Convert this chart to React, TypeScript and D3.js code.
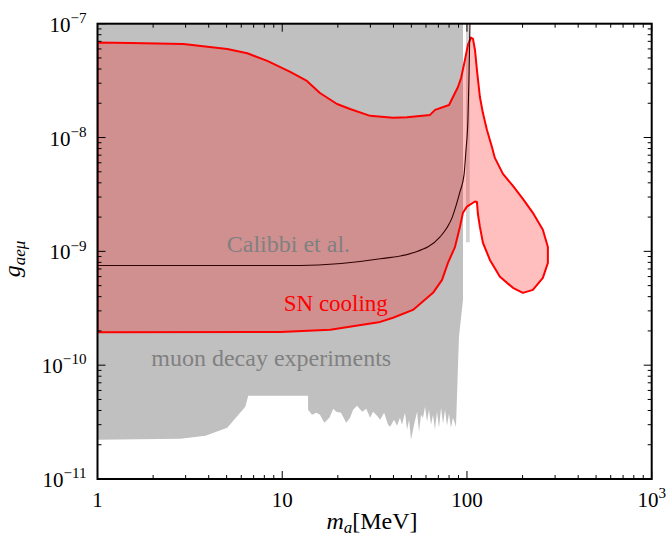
import React, { useEffect, useRef } from "react";
import * as d3 from "d3";

// SN cooling excluded region, closed contour [m_a (MeV), g_aeμ]
const snCooling: [number, number][] = [
  [1, 6.84e-8], [1.51, 6.77e-8], [2.92, 6.64e-8], [5.04, 6.0e-8], [6.47, 5.5e-8],
  [8.3, 4.71e-8], [11.05, 3.77e-8], [13.6, 3.14e-8], [16.0, 2.46e-8], [19.8, 1.97e-8],
  [23.3, 1.78e-8], [29.9, 1.55e-8], [39.8, 1.49e-8], [47.4, 1.51e-8], [63.1, 1.58e-8],
  [67.2, 1.75e-8], [80.0, 1.93e-8], [84.0, 2.27e-8], [89.4, 2.78e-8], [92.9, 3.33e-8],
  [97.5, 4.8e-8], [101.2, 6.5e-8], [105.1, 7.54e-8], [107.8, 7.35e-8], [110.5, 5.88e-8],
  [113.2, 3.93e-8], [117.5, 2.27e-8], [122.0, 1.64e-8], [128.2, 1.17e-8], [136.5, 8.27e-9],
  [141.6, 6.62e-9], [156.6, 4.79e-9], [177.4, 3.76e-9], [200.8, 2.89e-9], [227.4, 2.18e-9],
  [257.5, 1.55e-9], [274.2, 1.09e-9], [274.2, 7.92e-10], [257.5, 5.85e-10], [227.4, 4.59e-10],
  [200.8, 4.32e-10], [177.4, 4.78e-10], [150.8, 5.97e-10], [133.1, 8.41e-10], [122.0, 1.19e-9],
  [117.5, 1.64e-9], [114.6, 2.13e-9], [113.2, 2.72e-9], [110.5, 2.74e-9], [100, 2.47e-9],
  [95.1, 2.18e-9], [91.6, 1.64e-9], [86.1, 1.09e-9], [78.9, 7.92e-10], [73.3, 5.62e-10],
  [65.5, 4.32e-10], [51.0, 3.06e-10], [39.8, 2.61e-10], [33.9, 2.4e-10], [18.2, 2.05e-10],
  [9.75, 1.96e-10], [1, 1.95e-10],
];

// Calibbi et al. curve
const calibbi: [number, number][] = [
  [1, 7.5e-10], [12.5, 7.5e-10], [33.9, 8.6e-10], [51.0, 9.7e-10], [71.5, 1.34e-9],
  [77.9, 1.61e-9], [83.0, 1.97e-9], [87.2, 2.51e-9], [91.6, 3.33e-9], [96.4, 4.7e-9],
  [98.8, 7.78e-9], [101.2, 1.43e-8], [102.5, 3.2e-8], [103.8, 1e-7],
];

// muon decay experiments excluded region (upper edge beyond the frame)
const muonDecay: [number, number][] = [
  [1, 1.2e-7], [95.2, 1.2e-7], [95.2, 3.75e-10], [90.5, 1.78e-10], [87.2, 2.88e-11],
  [84.0, 3.45e-11], [81.9, 2.82e-11], [79.9, 3.74e-11], [78.0, 2.94e-11], [76.1, 4.06e-11],
  [74.2, 3.06e-11], [72.4, 4.23e-11], [70.6, 2.82e-11], [68.8, 3.9e-11], [67.1, 2.71e-11],
  [65.5, 3.67e-11], [63.9, 3.0e-11], [62.3, 4.06e-11], [60.8, 3.18e-11], [59.3, 4.31e-11],
  [57.8, 3.45e-11], [56.4, 3.67e-11], [55.0, 2.6e-11], [53.7, 3.9e-11], [51.7, 3.0e-11],
  [49.8, 2.21e-11], [48.6, 3.32e-11], [47.4, 2.71e-11], [46.2, 3.82e-11], [44.5, 3.0e-11],
  [43.4, 3.45e-11], [41.8, 2.94e-11], [40.3, 3.32e-11], [38.4, 2.88e-11], [37.4, 3.0e-11],
  [35.6, 3.82e-11], [33.9, 3.32e-11], [32.6, 3.59e-11], [31.0, 3.9e-11], [29.9, 3.45e-11],
  [28.5, 4.14e-11], [27.1, 3.9e-11], [25.4, 4.4e-11], [24.2, 4.06e-11], [23.3, 3.45e-11],
  [22.2, 3.12e-11], [20.8, 3.82e-11], [19.6, 3.9e-11], [18.9, 4.14e-11], [18.0, 3.45e-11],
  [16.9, 3.12e-11], [16.0, 3.67e-11], [15.3, 3.82e-11], [14.5, 3.67e-11], [13.8, 4.06e-11],
  [13.8, 5.38e-11], [6.55, 5.38e-11], [6.31, 4.31e-11], [5.04, 2.82e-11], [3.84, 2.4e-11],
  [2.81, 2.26e-11], [1, 2.21e-11],
];

// narrow extra strip of the muon constraint just above 100 MeV
const muonStrip: [number, number][] = [
  [98.8, 1.2e-7], [103.5, 1.2e-7], [103.5, 1.2e-9], [98.8, 1.2e-9],
];

const xTickValues = [1, 10, 100, 1000];
const xTickLabels = ["1", "10", "100", "10^3"];
const yTickValues = [1e-7, 1e-8, 1e-9, 1e-10, 1e-11];
const yTickLabels = ["10^-7", "10^-8", "10^-9", "10^-10", "10^-11"];

const FONT = "Liberation Serif, Times New Roman, serif";

function powText(sel: any, label: string, size: number) {
  const parts = label.split("^");
  sel.append("tspan").text(parts[0]);
  if (parts.length > 1) {
    sel.append("tspan")
      .attr("dy", -size * 0.42)
      .attr("font-size", size * 0.72)
      .text(parts[1].replace("-", "\u2212"));
  }
}

export default function App() {
  const svgRef = useRef<SVGSVGElement>(null);

  useEffect(() => {
    const width = 666;
    const height = 537;
    const margin = { top: 23.7, right: 14.3, bottom: 58, left: 97.5 };

    const svg = d3.select(svgRef.current);
    svg.selectAll("*").remove();
    svg.attr("width", width).attr("height", height).attr("font-family", FONT);

    const x = d3.scaleLog().domain([1, 1000]).range([margin.left, width - margin.right]);
    const y = d3.scaleLog().domain([1e-11, 1e-7]).range([height - margin.bottom, margin.top]);

    svg.append("defs").append("clipPath").attr("id", "plotclip")
      .append("rect")
      .attr("x", margin.left).attr("y", margin.top)
      .attr("width", width - margin.left - margin.right)
      .attr("height", height - margin.top - margin.bottom);

    const plot = svg.append("g").attr("clip-path", "url(#plotclip)");

    const poly = d3.line<[number, number]>().x(d => x(d[0])).y(d => y(d[1]));

    plot.append("path")
      .attr("d", poly(muonDecay) + "Z")
      .attr("fill", "#c0c0c0");

    plot.append("path")
      .attr("d", poly(muonStrip) + "Z")
      .attr("fill", "#d4d4d4");

    plot.append("path")
      .attr("d", poly(snCooling) + "Z")
      .attr("fill", "rgba(255,0,0,0.25)")
      .attr("stroke", "#ff0000")
      .attr("stroke-width", 2)
      .attr("stroke-linejoin", "round");

    const smooth = d3.line<[number, number]>()
      .x(d => x(d[0])).y(d => y(d[1]))
      .curve(d3.curveMonotoneX);

    plot.append("path")
      .attr("d", smooth(calibbi))
      .attr("fill", "none")
      .attr("stroke", "#300000")
      .attr("stroke-width", 1.1);

    // region labels
    plot.append("text")
      .attr("x", x(10.8)).attr("y", y(9.96e-10))
      .attr("text-anchor", "middle")
      .attr("font-size", 24)
      .attr("fill", "#808080")
      .text("Calibbi et al.");

    plot.append("text")
      .attr("x", x(19.5)).attr("y", y(3.0e-10))
      .attr("text-anchor", "middle")
      .attr("font-size", 23)
      .attr("fill", "#ff0000")
      .text("SN cooling");

    plot.append("text")
      .attr("x", x(8.72)).attr("y", y(9.9e-11))
      .attr("text-anchor", "middle")
      .attr("font-size", 24)
      .attr("fill", "#808080")
      .text("muon decay experiments");

    // ticks on all four sides
    const isMajor = (v: number) => Math.abs(Math.log10(v) - Math.round(Math.log10(v))) < 1e-6;
    const ticks = svg.append("g").attr("stroke", "#000").attr("stroke-width", 1);
    x.ticks().forEach(v => {
      const len = isMajor(v) ? 8 : 4;
      const px = x(v);
      ticks.append("line").attr("x1", px).attr("x2", px)
        .attr("y1", height - margin.bottom).attr("y2", height - margin.bottom - len);
      ticks.append("line").attr("x1", px).attr("x2", px)
        .attr("y1", margin.top).attr("y2", margin.top + len);
    });
    y.ticks().forEach(v => {
      const len = isMajor(v) ? 8 : 4;
      const py = y(v);
      ticks.append("line").attr("y1", py).attr("y2", py)
        .attr("x1", margin.left).attr("x2", margin.left + len);
      ticks.append("line").attr("y1", py).attr("y2", py)
        .attr("x1", width - margin.right).attr("x2", width - margin.right - len);
    });

    svg.append("rect")
      .attr("x", margin.left).attr("y", margin.top)
      .attr("width", width - margin.left - margin.right)
      .attr("height", height - margin.top - margin.bottom)
      .attr("fill", "none").attr("stroke", "#000").attr("stroke-width", 2);

    // tick labels
    xTickValues.forEach((v, i) => {
      const t = svg.append("text")
        .attr("x", x(v)).attr("y", height - margin.bottom + 28)
        .attr("text-anchor", "middle")
        .attr("font-size", 21);
      powText(t, xTickLabels[i], 21);
    });
    yTickValues.forEach((v, i) => {
      const t = svg.append("text")
        .attr("x", margin.left - 11).attr("y", y(v) + 8)
        .attr("text-anchor", "end")
        .attr("font-size", 21);
      powText(t, yTickLabels[i], 21);
    });

    // axis titles
    const xt = svg.append("text")
      .attr("x", 372)
      .attr("y", height - 8)
      .attr("text-anchor", "middle")
      .attr("font-size", 24);
    xt.append("tspan").attr("font-style", "italic").text("m");
    xt.append("tspan").attr("font-style", "italic").attr("font-size", 17).attr("dy", 4).text("a");
    xt.append("tspan").attr("dy", -4).text("[MeV]");

    const yt = svg.append("text")
      .attr("transform", "translate(20, 259) rotate(-90)")
      .attr("text-anchor", "middle")
      .attr("font-size", 24);
    yt.append("tspan").attr("font-style", "italic").text("g");
    yt.append("tspan").attr("font-style", "italic").attr("font-size", 17).attr("dy", 5).text("ae\u03bc");
  }, []);

  return (
    <svg ref={svgRef} style={{ position: "absolute", left: 0, top: 0 }} />
  );
}
